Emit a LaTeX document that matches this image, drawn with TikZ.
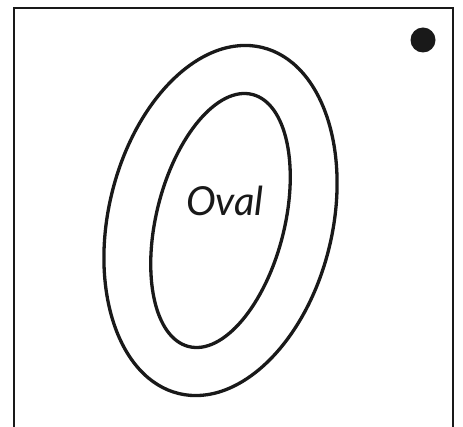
\documentclass[tikz,border=0pt]{standalone}
\usepackage{fontspec}
\newfontfamily\ovalfont{Lato}
\begin{document}
\begin{tikzpicture}[x=1pt,y=1pt,
  frame/.style={draw=black!90,line width=2.8pt},
  ring/.style={draw=black!90,line width=3.3pt},
  label/.style={font=\ovalfont\itshape\fontsize{40}{40}\selectfont, text=black!90}]
\useasboundingbox (0,0) rectangle (463,426);
\begin{scope}
\clip (0,0) rectangle (463,426);
\draw[frame] (14,-20) -- (14,418) -- (453,418) -- (453,-20);
\end{scope}
\fill[black!90] (423,386) circle (12.5);
\draw[ring,rotate around={-13.5:(220.5,205.5)}] (220.5,205.5) ellipse (112 and 178);
\draw[ring,rotate around={-14.2:(220.5,205.5)}] (220.5,205.5) ellipse (64 and 130);
\node[label] (oval) at (225,225) {Oval};
\end{tikzpicture}
\end{document}
